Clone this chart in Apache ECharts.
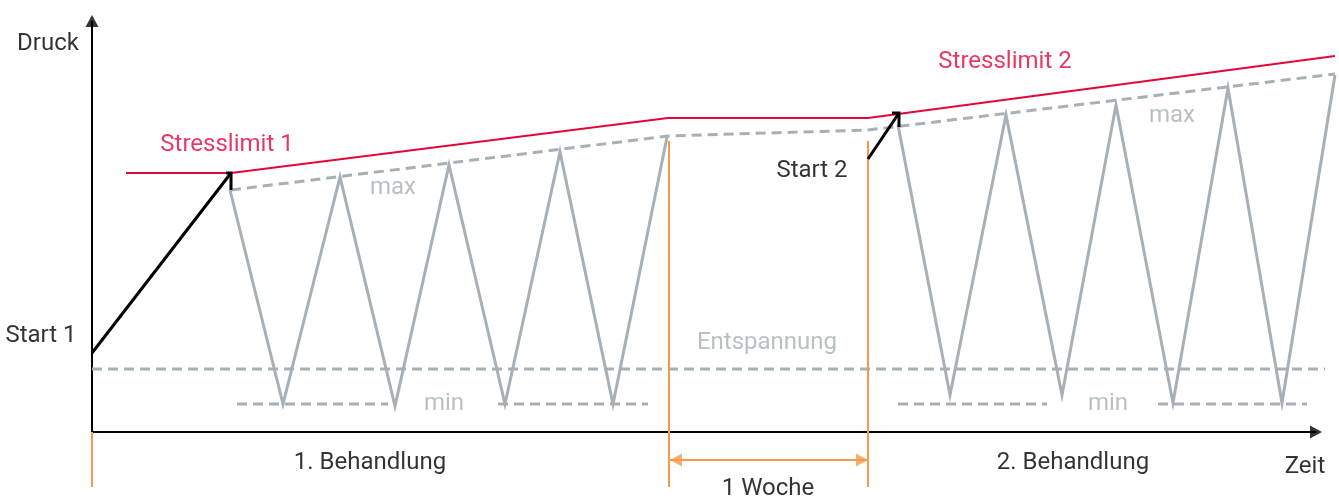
<!DOCTYPE html>
<html>
<head>
<meta charset="utf-8">
<script src="https://cdn.jsdelivr.net/npm/echarts@6/dist/echarts.min.js"></script>
<style>
  html, body { margin: 0; padding: 0; background: #ffffff; }
  #chart { width: 1339px; height: 500px; }
</style>
</head>
<body>
<div id="chart"></div>
<script>
// ---- Data (schematic units: x = time, y = pressure, origin at axis crossing) ----
const stressLimit = [[34, 259], [139, 259], [576, 314], [776, 314], [1243, 376]];
const maxLevel = [[139, 242], [576, 296], [776, 302], [1243, 358]];
const cycles1 = [[138, 242], [191, 28], [248, 255], [303, 26], [357, 267], [413, 28], [468, 280], [521, 28], [575, 295]];
const cycles2 = [[806, 307], [858, 37], [914, 317], [970, 37], [1024, 327], [1081, 29], [1136, 344], [1190, 29], [1243, 357]];
const relaxLevel = [[0, 63], [1233, 63]];
const minSegments = [
  [[145, 28], [296, 28]],
  [[406, 28], [556, 28]],
  [[806, 28], [955, 28]],
  [[1066, 28], [1215, 28]]
];
const start1 = [[0, 79], [139, 259]];
const start1Head = [[134, 259], [139, 259], [139, 242]];
const start2 = [[776, 273], [807, 319]];
const start2Head = [[800, 319], [807, 319], [807, 305]];
const phaseMarks = [
  [[0, 0], [0, -55]],
  [[577, 291], [577, -55]],
  [[776, 291], [776, -55]]
];
const weekSpan = [[578, -28], [776, -28]];
const weekHeads = [[584, -28, 90], [770, -28, -90]];
const timeAxis = [[0, 0], [1224, 0]];
const pressureAxis = [[0, 0], [0, 411]];
const axisHeads = [[1224, 0, -90], [0, 411, 0]];
const annotations = [
  { text: 'Druck', at: [-44, 388], role: 'axis' },
  { text: 'Zeit', at: [1213, -35], role: 'axis' },
  { text: 'Start 1', at: [-51, 96], role: 'axis' },
  { text: 'Start 2', at: [720, 261], role: 'axis' },
  { text: 'Stresslimit 1', at: [135, 287], role: 'limit' },
  { text: 'Stresslimit 2', at: [913, 370], role: 'limit' },
  { text: 'max', at: [301, 244], role: 'level' },
  { text: 'max', at: [1080, 316], role: 'level' },
  { text: 'min', at: [352, 28], role: 'level' },
  { text: 'min', at: [1016, 28], role: 'level' },
  { text: 'Entspannung', at: [675, 89], role: 'level' },
  { text: '1. Behandlung', at: [278, -31], role: 'axis' },
  { text: '2. Behandlung', at: [981, -31], role: 'axis' },
  { text: '1 Woche', at: [676, -57], role: 'axis' }
];

// ---- Styles ----
const RED = '#e2063a';
const GRAY = '#a8b0b7';
const ORANGE = '#f49a4c';
const BLACK = '#000000';
const FONT = "Roboto, 'DejaVu Sans Condensed', sans-serif";
const roleColor = { axis: BLACK, limit: RED, level: GRAY };
const DASH = [10, 6];

function lineSeries(data, color, width, dashed, z) {
  return {
    type: 'line', data: data, symbol: 'none', clip: false, silent: true,
    animation: false, z: z || 2,
    lineStyle: { color: color, width: width, type: dashed ? DASH : 'solid', cap: 'butt', join: 'miter' }
  };
}
function headSeries(items, color, size, z) {
  return {
    type: 'scatter', clip: false, silent: true, animation: false, z: z,
    symbol: 'triangle', symbolSize: size,
    data: items.map(d => ({ value: [d[0], d[1]], symbolRotate: d[2] })),
    itemStyle: { color: color }
  };
}

const series = [];
series.push(lineSeries(timeAxis, BLACK, 2, false, 1));
series.push(lineSeries(pressureAxis, BLACK, 2, false, 1));
series.push(headSeries(axisHeads, BLACK, [13, 12], 1));
series.push(lineSeries(relaxLevel, GRAY, 3, true, 2));
minSegments.forEach(s => series.push(lineSeries(s, GRAY, 3, true, 2)));
series.push(lineSeries(maxLevel, GRAY, 3, true, 2));
series.push(lineSeries(cycles1, GRAY, 3, false, 3));
series.push(lineSeries(cycles2, GRAY, 3, false, 3));
series.push(lineSeries(stressLimit, RED, 2, false, 4));
phaseMarks.forEach(s => series.push(lineSeries(s, ORANGE, 2, false, 3)));
series.push(lineSeries(weekSpan, ORANGE, 2, false, 3));
series.push(headSeries(weekHeads, ORANGE, [13, 12], 4));
series.push(lineSeries(start1, BLACK, 3, false, 5));
series.push(lineSeries(start1Head, BLACK, 3, false, 5));
series.push(lineSeries(start2, BLACK, 3, false, 5));
series.push(lineSeries(start2Head, BLACK, 3, false, 5));
series.push({
  type: 'scatter', clip: false, silent: true, animation: false, z: 6,
  symbol: 'circle', symbolSize: 1,
  itemStyle: { color: 'rgba(0,0,0,0)' },
  data: annotations.map(a => ({
    value: a.at, name: a.text,
    label: {
      show: true, position: 'inside', formatter: a.text,
      color: roleColor[a.role], fontSize: 24, fontFamily: FONT,
      align: 'center', verticalAlign: 'middle',
      textBorderWidth: 0
    }
  }))
});

const chart = echarts.init(document.getElementById('chart'), null, { renderer: 'canvas' });
chart.setOption({
  animation: false,
  backgroundColor: '#ffffff',
  grid: { left: 92, right: 0, top: 0, bottom: 68, containLabel: false },
  xAxis: {
    type: 'value', min: 0, max: 1247, show: false,
    splitLine: { show: false }, axisTick: { show: false }, axisLabel: { show: false }, axisLine: { show: false }
  },
  yAxis: {
    type: 'value', min: 0, max: 432, show: false,
    splitLine: { show: false }, axisTick: { show: false }, axisLabel: { show: false }, axisLine: { show: false }
  },
  series: series
});
</script>
</body>
</html>
